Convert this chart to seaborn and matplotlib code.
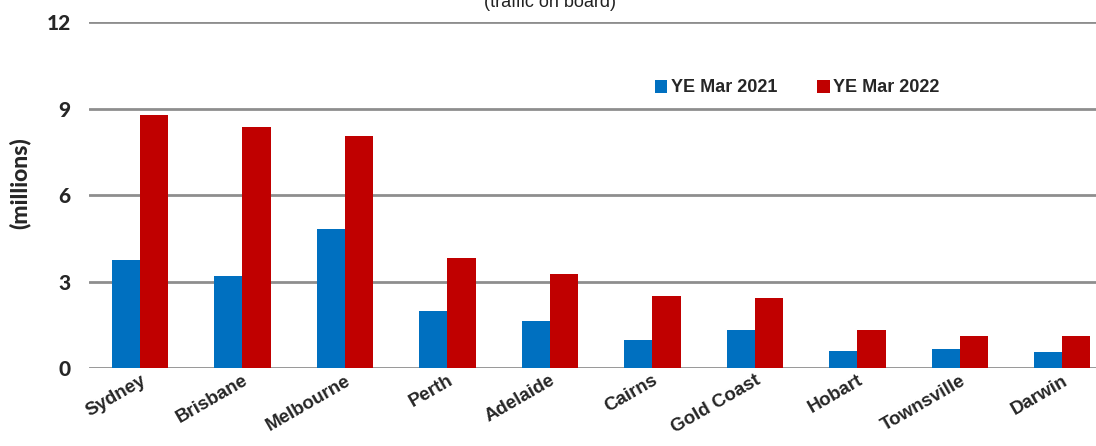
import matplotlib
matplotlib.use('Agg')
import matplotlib.pyplot as plt
import seaborn as sns
import pandas as pd

# values (millions, traffic on board)
cities = ['Sydney', 'Brisbane', 'Melbourne', 'Perth', 'Adelaide',
          'Cairns', 'Gold Coast', 'Hobart', 'Townsville', 'Darwin']
ye_2021 = [3.76, 3.20, 4.83, 1.98, 1.63, 0.97, 1.32, 0.59, 0.66, 0.56]
ye_2022 = [8.77, 8.38, 8.07, 3.83, 3.27, 2.50, 2.43, 1.32, 1.11, 1.11]
series = ['YE Mar 2021', 'YE Mar 2022']
colors = ['#0070C0', '#C00000']
y_ticks = [0, 3, 6, 9, 12]

df = pd.DataFrame({
    'city': cities * 2,
    'value': ye_2021 + ye_2022,
    'period': [series[0]] * len(cities) + [series[1]] * len(cities),
})

sns.set_style('white')

fig = plt.figure(figsize=(10.96, 4.46), dpi=100)
ax = fig.add_axes([0.081, 0.175, 0.935, 0.775])

sns.barplot(data=df, x='city', y='value', hue='period', palette=colors,
            width=0.55, saturation=1, linewidth=0, ax=ax, legend=True)

ax.set_xlim(-0.5, 9.5)
ax.set_ylim(0, 12)
ax.set_yticks(y_ticks)
ax.yaxis.grid(True, color='#8E8E8E', linewidth=2)
ax.set_axisbelow(True)
for s in ax.spines.values():
    s.set_visible(False)

ax.set_xlabel('')
ax.tick_params(axis='y', length=0, pad=13)
ax.tick_params(axis='x', length=0, pad=3)
for lab in ax.get_yticklabels():
    lab.set_fontfamily('Lato')
    lab.set_fontweight('black')
    lab.set_fontsize(15)
ax.set_ylabel('')
fig.text(20 / 1096, 1 - 183 / 446, '(millions)', rotation=90, ha='center',
         va='center', fontsize=16.5, fontweight='black', family='Lato')

ax.set_xticks(range(len(cities)))
ax.set_xticklabels(cities, rotation=30, ha='right', rotation_mode='anchor',
                   fontsize=13.5, fontweight='bold', family='Liberation Sans')
for lab in ax.get_xticklabels():
    lab.set_x(lab.get_position()[0] - 0.05)

ax.legend(loc='center', bbox_to_anchor=(797 / 1096, 1 - 88 / 446),
          bbox_transform=fig.transFigure, ncol=2, frameon=False,
          handlelength=0.7, handleheight=0.7, handletextpad=0.2,
          columnspacing=2.2,
          prop={'family': 'Liberation Sans', 'weight': 'bold', 'size': 13})

fig.text(0.502, 0.995, '(traffic on board)', ha='center', va='center',
         fontsize=13, family='Liberation Sans', color='#222222')

fig.savefig('out.png', dpi=100)
